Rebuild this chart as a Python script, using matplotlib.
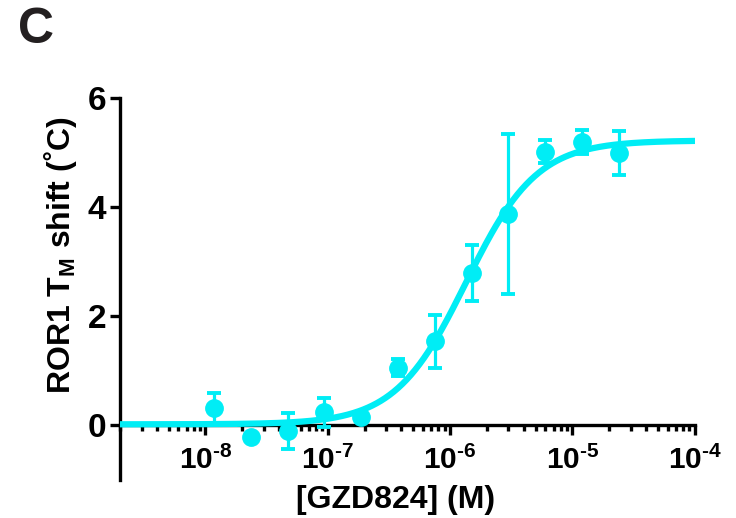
import numpy as np
import matplotlib
matplotlib.use("Agg")
import matplotlib.pyplot as plt
import matplotlib.transforms as mtrans
from matplotlib.ticker import LogLocator, FixedLocator

plt.rcParams['font.family'] = ['Liberation Sans', 'DejaVu Sans']
plt.rcParams['font.weight'] = 'bold'
plt.rcParams['mathtext.fontset'] = 'custom'
plt.rcParams['mathtext.rm'] = 'Liberation Sans:bold'
plt.rcParams['mathtext.bf'] = 'Liberation Sans:bold'
plt.rcParams['mathtext.it'] = 'Liberation Sans:bold'

# concentrations (M) and Tm shift (C)
conc = [1.17e-8, 2.34e-8, 4.69e-8, 9.38e-8, 1.875e-7, 3.75e-7,
        7.5e-7, 1.5e-6, 3e-6, 6e-6, 1.2e-5, 2.4e-5]
shift = [0.32, -0.22, -0.10, 0.24, 0.15, 1.06, 1.54, 2.79, 3.87, 5.01, 5.19, 4.99]
err = [0.28, 0.0, 0.33, 0.27, 0.0, 0.15, 0.49, 0.52, 1.47, 0.21, 0.22, 0.40]

# fitted dose-response parameters
bottom, top, ec50, hill = 0.02, 5.22, 1.35e-6, 1.5

xticks = [1e-8, 1e-7, 1e-6, 1e-5, 1e-4]
xlabels = [r'$10^{\text{-}8}$', r'$10^{\text{-}7}$', r'$10^{\text{-}6}$',
           r'$10^{\text{-}5}$', r'$10^{\text{-}4}$']

col = '#00EDF5'
ink = '#231F20'

fig = plt.figure(figsize=(7.36, 5.18), dpi=100)
ax = fig.add_axes([0.163, 0.0734, 0.781, 0.7376])

xc = np.logspace(np.log10(2e-9), -4, 400)
yc = bottom + (top - bottom) / (1 + (ec50 / xc) ** hill)
ax.plot(xc, yc, color=col, lw=4.5, solid_capstyle='round', zorder=3)

ax.errorbar(conc, shift, yerr=err, fmt='o', color=col, ms=12.5,
            elinewidth=2.3, capsize=5, capthick=2.8, zorder=4)

ax.set_xscale('log')
ax.set_xlim(2e-9, 1e-4)
ax.set_ylim(-1, 6)

ax.spines['top'].set_visible(False)
ax.spines['right'].set_visible(False)
ax.spines['bottom'].set_position(('data', 0))
for s in ('bottom', 'left'):
    ax.spines[s].set_linewidth(2.4)
    ax.spines[s].set_color('black')
ax.spines['bottom'].set_zorder(2)

ax.set_yticks([0, 2, 4, 6])
ax.set_yticklabels(['0', '2', '4', '6'], fontsize=24, fontweight='bold')
ax.xaxis.set_major_locator(FixedLocator(xticks))
ax.set_xticklabels(xlabels, fontsize=21.5)
# keep "10" centred on the tick, exponent hanging to the right
shift_tr = mtrans.ScaledTranslation(7 / 72, 0, fig.dpi_scale_trans)
for lab in ax.get_xticklabels():
    lab.set_transform(lab.get_transform() + shift_tr)
ax.xaxis.set_minor_locator(LogLocator(base=10, subs=np.arange(2, 10), numticks=20))
ax.tick_params(axis='both', which='major', direction='out', length=7, width=2.4)
ax.tick_params(axis='y', which='major', pad=3)
ax.tick_params(axis='x', which='major', pad=8)
ax.tick_params(axis='x', which='minor', direction='out', length=4, width=2.4)

ax.set_xlabel('[GZD824] (M)', fontsize=23, fontweight='bold')
ax.xaxis.set_label_coords(0.48, -0.012)
ax.set_ylabel(r'ROR1 T$_{\mathbf{M}}$ shift (˚C)', fontsize=23, fontweight='bold')
ax.yaxis.set_label_coords(-0.071, 0.59)

fig.text(0.024, 0.942, 'C', fontsize=36, fontweight='bold', va='center', ha='left', color=ink)

fig.savefig('out.png', dpi=100)
